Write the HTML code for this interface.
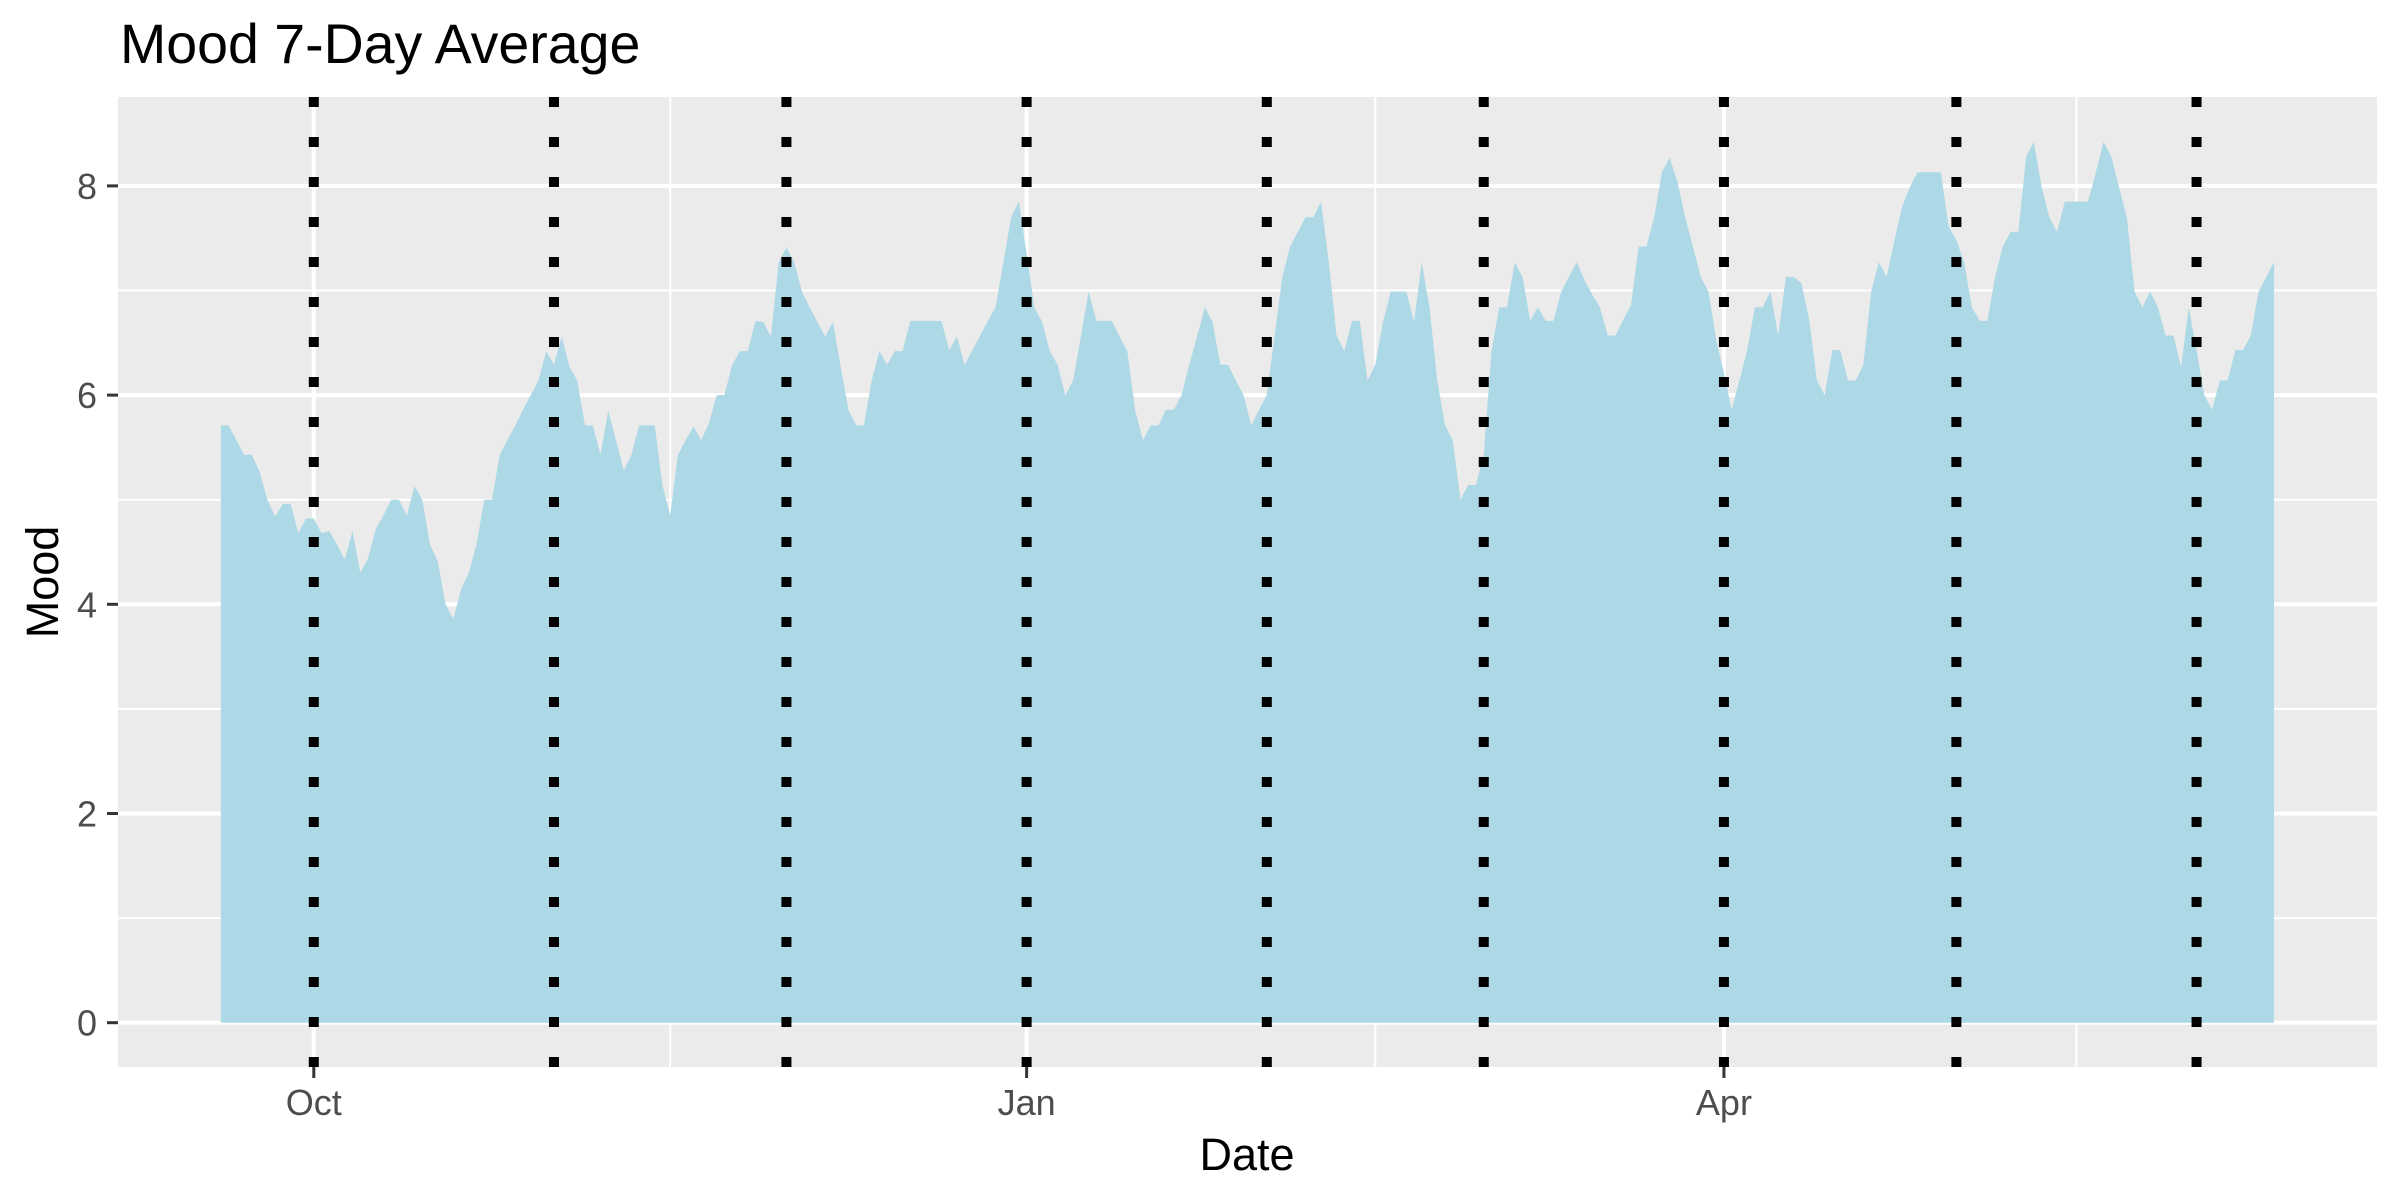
<!DOCTYPE html>
<html><head><meta charset="utf-8"><style>
html,body{margin:0;padding:0;background:#fff;}
svg{display:block;font-family:"Liberation Sans",Arial,sans-serif;}
</style></head><body>
<svg id="chart" width="2400" height="1200" viewBox="0 0 2400 1200" xmlns="http://www.w3.org/2000/svg">
<rect x="0" y="0" width="2400" height="1200" fill="#fff"/>
<text x="120" y="63" font-size="55.5" fill="#000">Mood 7-Day Average</text>
<g id="panel"></g>
<text x="1247" y="1170" font-size="45" text-anchor="middle" fill="#000">Date</text>
<text x="0" y="0" font-size="45" text-anchor="middle" fill="#000" transform="translate(58,582) rotate(-90)">Mood</text>
</svg>
<script>
const startDate = "2021-09-19";
const moodValues = [
5.71,5.71,5.57,5.43,5.43,5.27,5.0,4.84,4.96,4.96,
4.68,4.82,4.82,4.68,4.70,4.57,4.43,4.70,4.30,4.44,
4.72,4.85,5.0,5.0,4.85,5.13,5.0,4.57,4.41,4.0,
3.86,4.14,4.30,4.57,5.0,5.0,5.43,5.57,5.71,5.86,
6.0,6.14,6.42,6.29,6.56,6.27,6.14,5.71,5.71,5.43,
5.85,5.57,5.28,5.43,5.71,5.71,5.71,5.14,4.85,5.43,
5.57,5.70,5.57,5.73,6.0,6.0,6.29,6.42,6.42,6.71,
6.70,6.56,7.27,7.41,7.27,6.99,6.84,6.70,6.56,6.70,
6.27,5.86,5.71,5.71,6.14,6.42,6.29,6.42,
6.42,6.71,6.71,6.71,6.71,6.71,6.43,6.56,6.29,6.43,
6.57,6.71,6.84,7.27,7.70,7.85,7.35,6.84,6.70,6.42,
6.29,6.0,6.14,6.56,6.99,6.71,6.71,6.71,6.56,6.42,
5.86,5.57,5.71,5.71,5.86,5.86,6.0,6.29,6.56,6.84,
6.70,6.29,6.29,6.14,6.0,5.71,5.86,6.0,6.56,7.13,
7.42,7.56,7.70,7.70,7.85,7.27,6.57,6.42,6.71,6.71,
6.14,6.29,6.70,6.99,6.99,6.99,6.70,7.27,6.84,6.14,
5.71,5.57,5.0,5.14,5.14,5.43,6.42,6.84,6.84,7.27,
7.13,6.71,6.84,6.71,6.71,6.99,7.13,7.27,
7.1,6.96,6.84,6.57,6.57,6.72,6.86,7.42,7.42,7.70,
8.13,8.27,8.04,7.70,7.42,7.13,6.99,6.53,6.21,5.86,
6.14,6.43,6.84,6.84,6.99,6.57,7.13,7.13,7.07,6.72,
6.14,6.0,6.43,6.43,6.14,6.14,6.29,6.99,7.27,7.13,
7.48,7.80,7.99,8.13,8.13,8.13,8.13,7.61,7.48,7.27,
6.84,6.71,6.71,7.13,7.42,7.56,7.56,8.28,8.42,7.99,
7.70,7.56,7.85,7.85,7.85,7.85,8.13,8.42,8.28,7.99,
7.70,6.99,6.84,6.99,6.84,6.57,6.57,6.27,6.84,6.43,
6.0,5.86,6.14,6.14,6.43,6.43,6.57,6.99,7.13,7.27
];
const monthLineDates = ["2021-10-01","2021-11-01","2021-12-01","2022-01-01","2022-02-01","2022-03-01","2022-04-01","2022-05-01","2022-06-01"];
const xTickDates = ["2021-10-01","2022-01-01","2022-04-01"];
const xTickLabels = ["Oct","Jan","Apr"];
const xMinorBounds = ["2021-10-01","2022-01-01","2022-04-01","2022-07-01"];
const yTicks = [0,2,4,6,8];
const yMinorTicks = [1,3,5,7];

const NS="http://www.w3.org/2000/svg";
const P={l:118,r:2377,t:97,b:1067};
const ref=Date.UTC(2021,9,1);
function dayOf(s){const p=s.split("-").map(Number);return (Date.UTC(p[0],p[1]-1,p[2])-ref)/86400000;}
function xd(d){return 313.8+d*7.748;}
function xs(s){return xd(dayOf(s));}
function y(v){return 1022.7-v*104.6;}
const panel=document.getElementById("panel");
function mk(tag,attrs,parent){const e=document.createElementNS(NS,tag);for(const k in attrs)e.setAttribute(k,attrs[k]);(parent||panel).appendChild(e);return e;}

let bg=mk("rect",{x:P.l,y:P.t,width:P.r-P.l,height:P.b-P.t,fill:"#ebebeb"});



yMinorTicks.forEach(v=>{const l=mk("line",{x1:P.l,x2:P.r,y1:y(v),y2:y(v),stroke:"#fff","stroke-width":2});

});
const majX=xTickDates.map(xs);
const minX=[];
for(let i=0;i<xMinorBounds.length-1;i++){minX.push((dayOf(xMinorBounds[i])+dayOf(xMinorBounds[i+1]))/2);}
minX.forEach(d=>{const x=xd(d);const l=mk("line",{x1:x,x2:x,y1:P.t,y2:P.b,stroke:"#fff","stroke-width":2});

});
yTicks.forEach(v=>{const l=mk("line",{x1:P.l,x2:P.r,y1:y(v),y2:y(v),stroke:"#fff","stroke-width":4});

});
majX.forEach(x=>{const l=mk("line",{x1:x,x2:x,y1:P.t,y2:P.b,stroke:"#fff","stroke-width":4});

});

const d0=dayOf(startDate);
let pts=[xd(d0)+","+y(0)];
moodValues.forEach((v,i)=>pts.push(xd(d0+i).toFixed(2)+","+y(v).toFixed(2)));
pts.push(xd(d0+moodValues.length-1).toFixed(2)+","+y(0));
const area=mk("polygon",{points:pts.join(" "),fill:"#add8e6"});



monthLineDates.forEach(s=>{const x=xs(s);const l=mk("line",{x1:x,x2:x,y1:P.t,y2:P.b,stroke:"#000","stroke-width":10,"stroke-dasharray":"10 30"});

});

const svg=document.getElementById("chart");
yTicks.forEach(v=>{const t=mk("line",{x1:107,x2:P.l,y1:y(v),y2:y(v),stroke:"#333","stroke-width":3},svg);


const tx=mk("text",{x:97,y:y(v)+13,"font-size":36,"text-anchor":"end",fill:"#4d4d4d"},svg);
tx.textContent=String(v);

});
xTickDates.forEach((s,i)=>{const x=xs(s);const t=mk("line",{x1:x,x2:x,y1:P.b,y2:P.b+11,stroke:"#333","stroke-width":3},svg);


const tx=mk("text",{x:x,y:1115,"font-size":36,"text-anchor":"middle",fill:"#4d4d4d"},svg);
tx.textContent=xTickLabels[i];

});
</script>
</body></html>
